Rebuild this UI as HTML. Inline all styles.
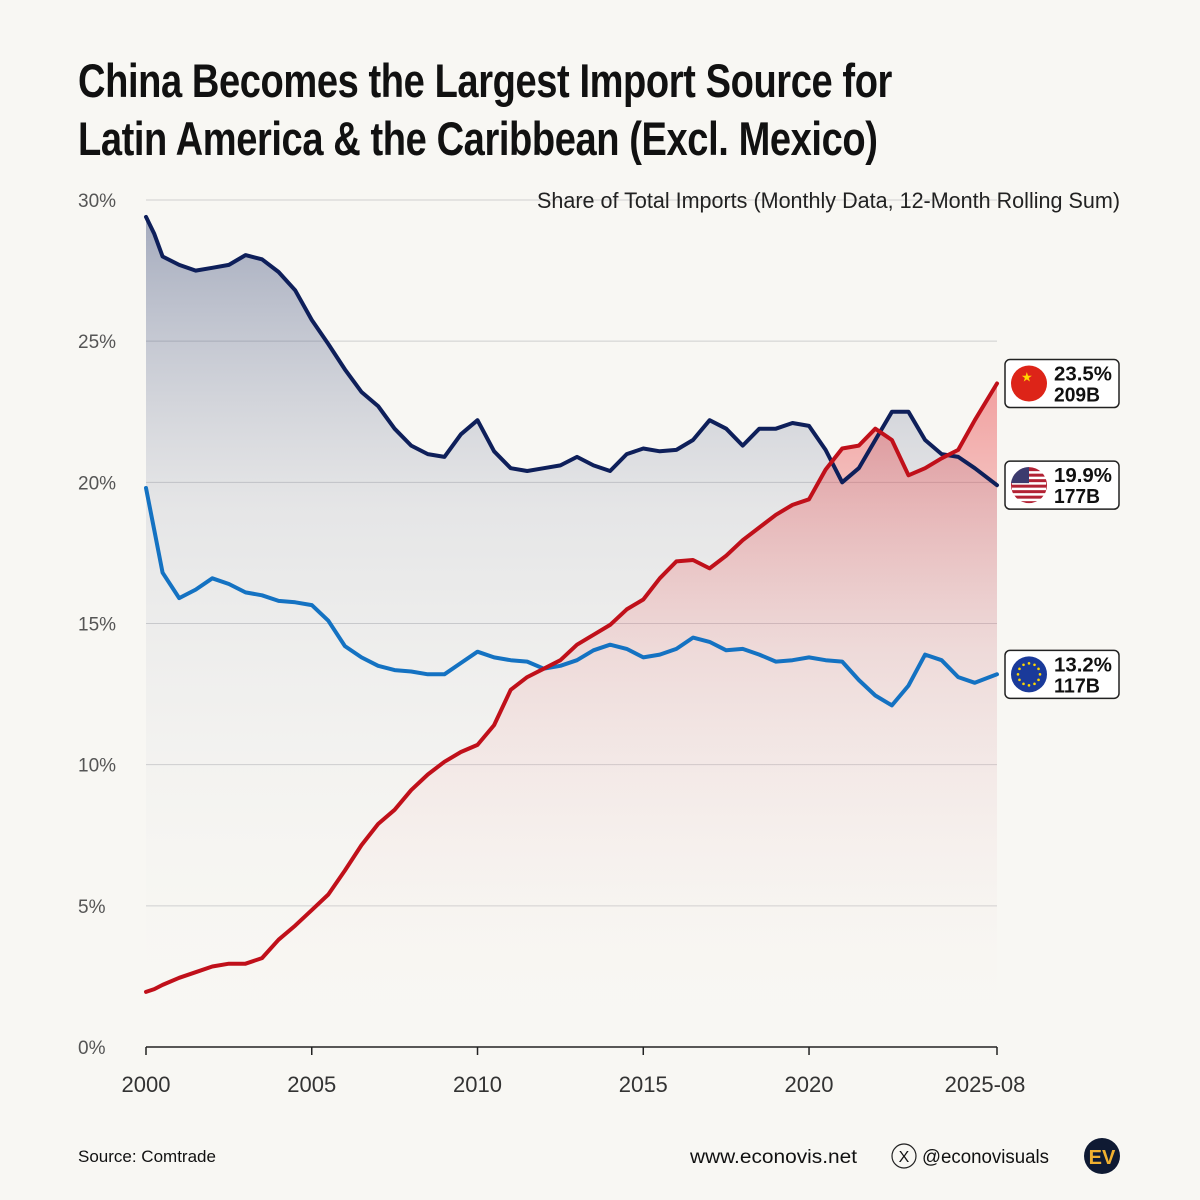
<!DOCTYPE html>
<html><head><meta charset="utf-8"><style>
html,body{margin:0;padding:0;background:#f8f7f3;}
body{width:1200px;height:1200px;overflow:hidden;position:relative;font-family:"Liberation Sans",sans-serif;}
.title{position:absolute;left:78px;top:52px;font-weight:bold;font-size:47px;line-height:58px;color:#111;letter-spacing:-0.5px;transform:scaleX(0.81);transform-origin:0 0;white-space:nowrap;}
</style></head><body>
<div class="title">China Becomes the Largest Import Source for<br>Latin America &amp; the Caribbean (Excl. Mexico)</div>
<svg id="chart" width="1200" height="1200" style="position:absolute;left:0;top:0">
<defs>
<linearGradient id="gUS" x1="0" y1="0" x2="0" y2="1"><stop offset="0" stop-color="#1c2f66" stop-opacity="0.38"/><stop offset="0.35" stop-color="#7a82a0" stop-opacity="0.15"/><stop offset="1" stop-color="#ffffff" stop-opacity="0"/></linearGradient>
<linearGradient id="gCN" x1="0" y1="0" x2="0" y2="1"><stop offset="0" stop-color="#e8262a" stop-opacity="0.42"/><stop offset="0.4" stop-color="#ee6a6a" stop-opacity="0.15"/><stop offset="1" stop-color="#ffffff" stop-opacity="0"/></linearGradient>
</defs>
<g id="grid"></g><g id="areas"></g><g id="lines"></g><g id="axes"></g>
<text x="537" y="208" textLength="583" lengthAdjust="spacingAndGlyphs" font-size="22" fill="#222">Share of Total Imports (Monthly Data, 12-Month Rolling Sum)</text>
<text x="78" y="1162" font-size="17" fill="#111">Source: Comtrade</text>
<text x="690" y="1163" textLength="167" lengthAdjust="spacingAndGlyphs" font-size="19" fill="#111">www.econovis.net</text>
<circle cx="904" cy="1156" r="12" fill="none" stroke="#222" stroke-width="1.2"/>
<text x="904" y="1162" text-anchor="middle" font-size="16" fill="#111">X</text>
<text x="922" y="1163" textLength="127" lengthAdjust="spacingAndGlyphs" font-size="19" fill="#111">@econovisuals</text>
<circle cx="1102" cy="1156" r="18" fill="#0f1a33"/>
<text x="1102" y="1164" text-anchor="middle" font-size="20" font-weight="bold" fill="#f0b030">EV</text>
<g id="legend"></g>
</svg>
<script>
const years=[2000,2000.25,2000.5,2001,2001.5,2002,2002.5,2003,2003.5,2004,2004.5,2005,2005.5,2006,2006.5,2007,2007.5,2008,2008.5,2009,2009.5,2010,2010.5,2011,2011.5,2012,2012.5,2013,2013.5,2014,2014.5,2015,2015.5,2016,2016.5,2017,2017.5,2018,2018.5,2019,2019.5,2020,2020.5,2021,2021.5,2022,2022.5,2023,2023.5,2024,2024.5,2025,2025.67];
const usShare=[29.4,28.8,28.0,27.7,27.5,27.6,27.7,28.05,27.9,27.45,26.8,25.75,24.9,24.0,23.2,22.7,21.9,21.3,21.0,20.9,21.7,22.2,21.1,20.5,20.4,20.5,20.6,20.9,20.6,20.4,21.0,21.2,21.1,21.15,21.5,22.2,21.9,21.3,21.9,21.9,22.1,22.0,21.15,20.0,20.5,21.5,22.5,22.5,21.5,21.0,20.9,20.5,19.9];
const euShare=[19.8,18.3,16.8,15.9,16.2,16.6,16.4,16.1,16.0,15.8,15.75,15.65,15.1,14.2,13.8,13.5,13.35,13.3,13.2,13.2,13.6,14.0,13.8,13.7,13.65,13.4,13.5,13.7,14.05,14.25,14.1,13.8,13.9,14.1,14.5,14.35,14.05,14.1,13.9,13.65,13.7,13.8,13.7,13.65,13.0,12.45,12.1,12.8,13.9,13.7,13.1,12.9,13.2];
const cnShare=[1.95,2.05,2.2,2.45,2.65,2.85,2.95,2.95,3.15,3.8,4.3,4.85,5.4,6.25,7.15,7.9,8.4,9.1,9.65,10.1,10.45,10.7,11.4,12.65,13.1,13.4,13.7,14.25,14.6,14.95,15.5,15.85,16.6,17.2,17.25,16.95,17.4,17.95,18.4,18.85,19.2,19.4,20.45,21.2,21.3,21.9,21.5,20.25,20.5,20.85,21.15,22.2,23.5];
const yTicks=[0,5,10,15,20,25,30];
const xTicks=[2000,2005,2010,2015,2020];
const xTickLabels=["2000","2005","2010","2015","2020"];
const legendLabels=[["23.5%","209B"],["19.9%","177B"],["13.2%","117B"]];
const legendValues=[23.5,19.9,13.2];
const NS="http://www.w3.org/2000/svg";
const X0=146,X1=997,XA=2000,XB=2025.67,Y0=1047,Y30=200;
const xs=v=>X0+(v-XA)/(XB-XA)*(X1-X0);
const ys=v=>Y0+(v/30)*(Y30-Y0);
function mk(t,a,p){const e=document.createElementNS(NS,t);for(const k in a)e.setAttribute(k,a[k]);p.appendChild(e);return e;}
const grid=document.getElementById('grid'),axes=document.getElementById('axes');
yTicks.forEach(v=>{
 if(v>0){const l=mk('line',{x1:X0,x2:X1,y1:ys(v),y2:ys(v),stroke:'#cfcfcf','stroke-width':1},grid);
 
 }
 const t=mk('text',{x:78,y:ys(v)+7,'font-size':19,fill:'#555'},axes);t.textContent=v+'%';
 
 
});
const base=mk('line',{x1:X0,x2:X1,y1:Y0,y2:Y0,stroke:'#222','stroke-width':1.5},axes);


xTicks.forEach((v,i)=>{
 const tk=mk('line',{x1:xs(v),x2:xs(v),y1:Y0,y2:Y0+8,stroke:'#222','stroke-width':1.5},axes);
 
 
 const t=mk('text',{x:xs(v),y:1092,'text-anchor':'middle','font-size':22,fill:'#333'},axes);t.textContent=xTickLabels[i];
 
 
});
const te=mk('line',{x1:X1,x2:X1,y1:Y0,y2:Y0+8,stroke:'#222','stroke-width':1.5},axes);


const tl=mk('text',{x:X1-12,y:1092,'text-anchor':'middle','font-size':22,fill:'#333'},axes);tl.textContent='2025-08';


function pts(arr){return arr.map((v,i)=>xs(years[i]).toFixed(1)+','+ys(v).toFixed(1));}
function area(arr,fill,name){const p=pts(arr);const e=mk('path',{d:'M'+xs(years[0])+','+Y0+' L'+p.join(' L')+' L'+xs(years[years.length-1])+','+Y0+'Z',fill:fill},document.getElementById('areas'));
 
 }
area(usShare,'url(#gUS)','us-area');
area(cnShare,'url(#gCN)','china-area');
function line(arr,col,name){const e=mk('polyline',{points:pts(arr).join(' '),fill:'none',stroke:col,'stroke-width':4,'stroke-linejoin':'round','stroke-linecap':'round'},document.getElementById('lines'));
 
 }
line(euShare,'#1472c2','eu-line');
line(usShare,'#0e1f5a','us-line');
line(cnShare,'#c0101a','china-line');
const lg=document.getElementById('legend');
const flagCols=['#dd2418','#b22234','#1a3a9a'];
const names=['legend-china','legend-us','legend-eu'];
legendValues.forEach((v,i)=>{
 const cy=ys(v);const g=mk('g',{},lg);
 
 
 mk('rect',{x:1005,y:cy-24,width:114,height:48,rx:5,fill:'#fff',stroke:'#222','stroke-width':1.5},g);
 mk('circle',{cx:1029,cy:cy,r:18,fill:flagCols[i]},g);
 if(i==1){for(let k=0;k<6;k++)mk('rect',{x:1012,y:cy-14+k*5.5,width:34,height:2.5,fill:'#fff'},g);mk('path',{d:`M1011,${cy-2} A18,18 0 0 1 1029,${cy-18} L1029,${cy-2}Z`,fill:'#3c3b6e'},g);}
 if(i==0){const s=mk('text',{x:1021,y:cy-2,'font-size':13,fill:'#ffd700'},g);s.textContent='★';}
 if(i==2){for(let k=0;k<12;k++){const a=k*Math.PI/6;mk('circle',{cx:1029+11*Math.cos(a),cy:cy+11*Math.sin(a),r:1.3,fill:'#ffd700'},g);}}
 const t1=mk('text',{x:1054,y:cy-3,'font-size':20,'font-weight':'bold',fill:'#111',textLength:58,lengthAdjust:'spacingAndGlyphs'},g);t1.textContent=legendLabels[i][0];
 const t2=mk('text',{x:1054,y:cy+18,'font-size':20,'font-weight':'bold',fill:'#111',textLength:46,lengthAdjust:'spacingAndGlyphs'},g);t2.textContent=legendLabels[i][1];
});
</script>
</body></html>
